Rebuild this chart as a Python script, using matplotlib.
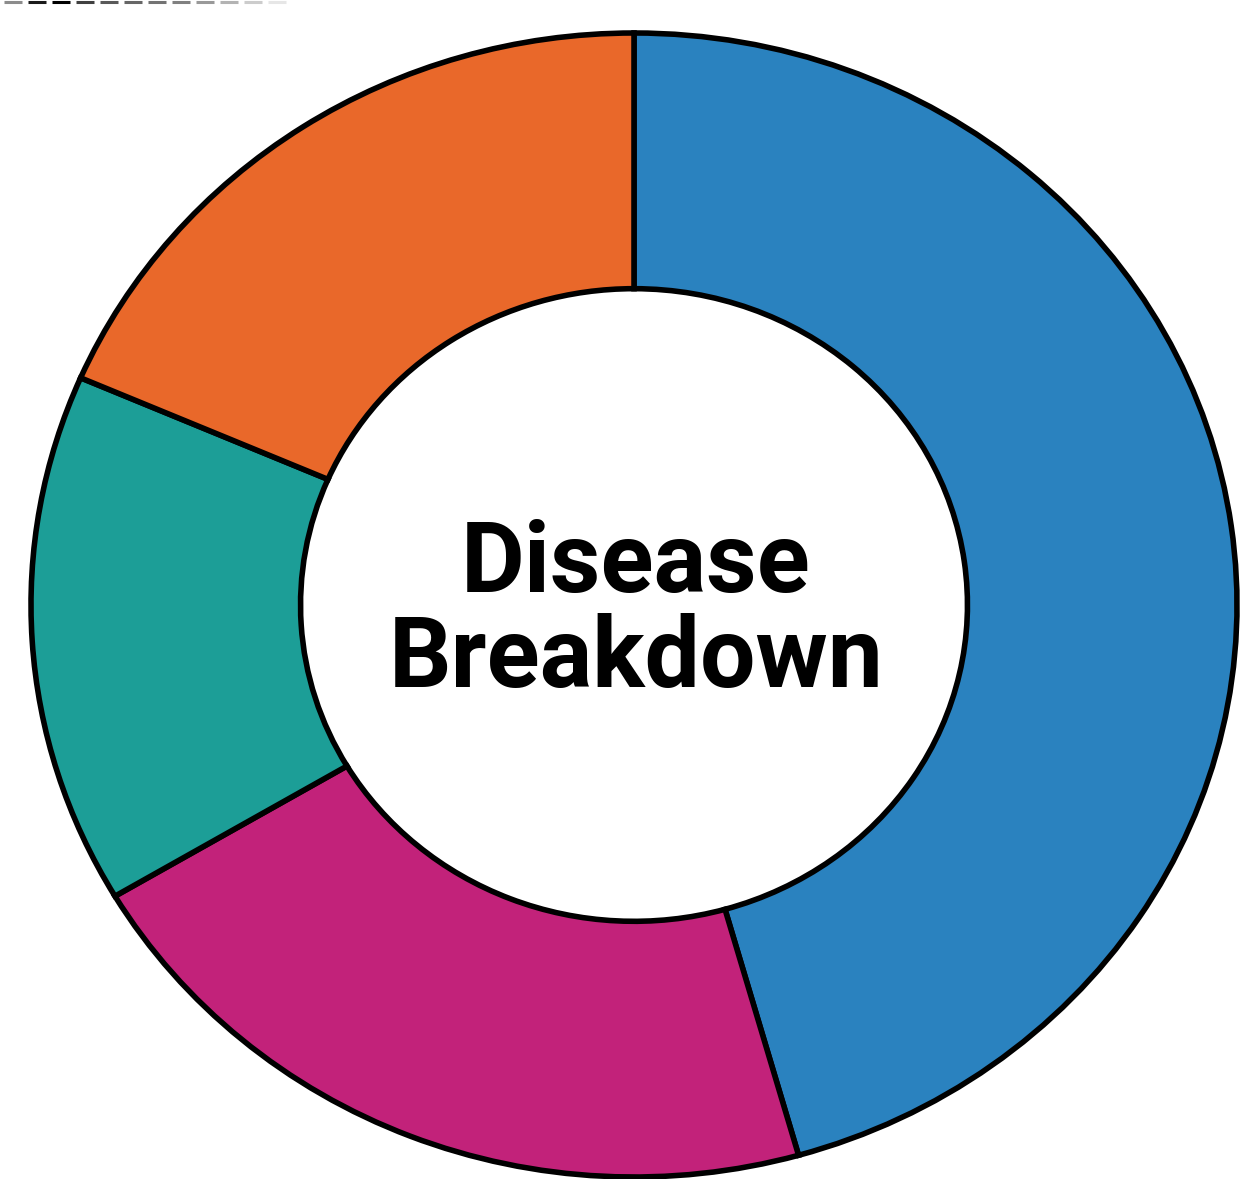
import numpy as np
import matplotlib.pyplot as plt

# disease shares, clockwise from 12 o'clock
labels = ['A', 'B', 'C', 'D']
shares = [45.6, 20.9, 15.0, 18.5]
colors = ['#2a82bf', '#c2227a', '#1c9e97', '#e9682a']
title_lines = ['Disease', 'Breakdown']

W, H = 1243, 1179
fig = plt.figure(figsize=(W / 100, H / 100), dpi=100)
ax = fig.add_axes([0, 0, 1, 1])

ax.pie(shares, colors=colors, startangle=90, counterclock=False,
       radius=1.0, wedgeprops=dict(width=0.447, edgecolor='black', linewidth=4.0))

# ring is slightly squashed in the picture, so map units to pixels by hand
cx, cy, rx, ry = 634, 605, 603, 572
ax.set_aspect('auto')
ax.set_xlim(-cx / rx, (W - cx) / rx)
ax.set_ylim(-(H - cy) / ry, cy / ry)
ax.axis('off')

# faint dashed strip along the top edge
grays = ['0.55', '0.1', '0.0', '0.25', '0.35', '0.4', '0.45', '0.5', '0.6', '0.7', '0.8', '0.9']
for i, g in enumerate(grays):
    x0 = 4 + i * 24
    fig.add_artist(plt.Line2D([x0 / W, (x0 + 18) / W], [1 - 1.5 / H, 1 - 1.5 / H],
                              color=g, lw=2.2, solid_capstyle='butt'))

texts = []
for txt, base in zip(title_lines, [592, 687]):
    t = fig.text(636 / W, 1 - base / H, txt, ha='center', va='baseline',
                 fontsize=70, fontweight='bold', family=['Roboto', 'DejaVu Sans'])
    texts.append(t)

# scale so "Breakdown" spans roughly what it does in the reference
r = fig.canvas.get_renderer()
w = texts[1].get_window_extent(r).width
for t in texts:
    t.set_fontsize(70 * 495 / w)

fig.savefig('out.png', dpi=100)
